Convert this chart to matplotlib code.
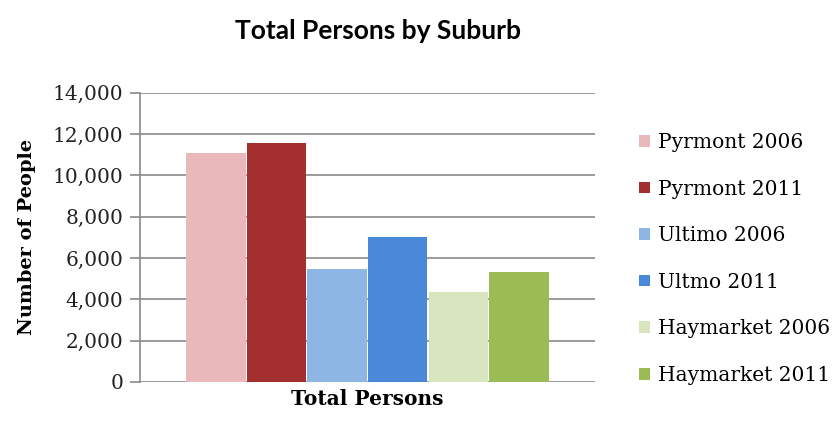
import matplotlib
matplotlib.use("Agg")
import matplotlib.pyplot as plt
import numpy as np
from matplotlib.ticker import FuncFormatter

series = ["Pyrmont 2006", "Pyrmont 2011", "Ultimo 2006", "Ultmo 2011", "Haymarket 2006", "Haymarket 2011"]
values = [11100, 11580, 5470, 7020, 4360, 5330]
colors = ["#E8B8BA", "#A3302E", "#8DB6E4", "#4A88D9", "#D8E5BE", "#9BBB55"]
category = ["Total Persons"]
yticks = [0, 2000, 4000, 6000, 8000, 10000, 12000, 14000]

serif = "DejaVu Serif"

fig = plt.figure(figsize=(8.34, 4.36), dpi=100)
ax = fig.add_axes([0.168, 0.124, 0.545, 0.663])

n = len(series)
group_w = 0.8
w = group_w / n
x0 = 0
for i, (s, v, c) in enumerate(zip(series, values, colors)):
    ax.bar(x0 - group_w / 2 + w * (i + 0.5), v, width=w * 0.98, color=c, label=s, zorder=3)

ax.set_xlim(-0.5, 0.5)
ax.set_ylim(0, 14000)
ax.set_yticks(yticks)
ax.yaxis.set_major_formatter(FuncFormatter(lambda v, p: f"{int(v):,}"))
ax.grid(axis="y", color="#8a8a8a", linewidth=1.2, zorder=0)
for sp in ["top", "right", "bottom"]:
    ax.spines[sp].set_visible(False)
ax.spines["left"].set_color("#8a8a8a")
ax.spines["left"].set_linewidth(1.2)
ax.tick_params(axis="y", length=7, color="#8a8a8a", width=1.2, labelsize=14.5, pad=5)
ax.set_xticks([0])
ax.set_xticklabels(category, fontsize=14.5, fontweight="bold", family=serif)
ax.tick_params(axis="x", length=0, pad=5)
for lab in ax.get_yticklabels():
    lab.set_family(serif)
    lab.set_color("#222222")
ax.set_ylabel("Number of People", fontsize=14, fontweight="bold", family=serif, labelpad=12)

fig.text(0.453, 0.93, "Total Persons by Suburb", ha="center", va="center",
         fontsize=19, fontweight="bold", family="Lato")

handles, labels = ax.get_legend_handles_labels()
fig.legend(handles, labels, loc="center left", bbox_to_anchor=(0.745, 0.406),
           frameon=False, prop={"family": serif, "size": 14.5},
           handlelength=0.5, handleheight=0.5, handletextpad=0.4, labelspacing=1.37)

fig.savefig("out.png", dpi=100)
